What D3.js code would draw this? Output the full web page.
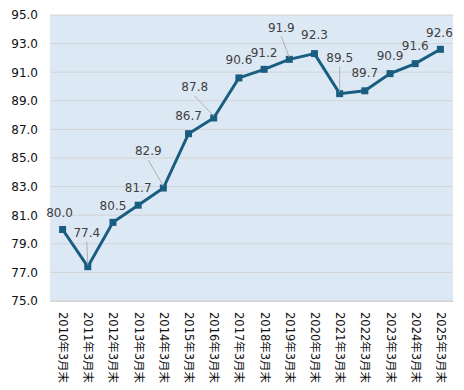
<!DOCTYPE html>
<html>
<head>
<meta charset="utf-8">
<script src="https://cdn.jsdelivr.net/npm/d3@7"></script>
<style>
  body { margin: 0; background: #fff; }
</style>
</head>
<body>
<div id="chart"></div>
<script>
// Data
const categories = ["2010年3月末", "2011年3月末", "2012年3月末", "2013年3月末", "2014年3月末",
    "2015年3月末", "2016年3月末", "2017年3月末", "2018年3月末", "2019年3月末", "2020年3月末",
    "2021年3月末", "2022年3月末", "2023年3月末", "2024年3月末", "2025年3月末"];
const values = [80.0, 77.4, 80.5, 81.7, 82.9, 86.7, 87.8, 90.6, 91.2, 91.9, 92.3, 89.5, 89.7, 90.9, 91.6, 92.6];
const yTicks = [75, 77, 79, 81, 83, 85, 87, 89, 91, 93, 95];

// Label placement relative to each point [dx, dy], and whether a leader line is drawn
const labelOffsets = [[-3, -17], [-1, -34], [0, -17], [0, -17], [-15, -37], [0, -18], [-19, -31], [0, -18],
    [0, -17], [-8, -32], [0, -19], [0, -36], [0, -18], [0, -18], [0, -18], [-1, -17]];
const leaders = [false, true, false, false, true, false, true, false, false, true, false, true, false, false, false, false];

const width = 464, height = 390;
const plot = { left: 50, right: 453, top: 15, bottom: 301 };

const svg = d3.select("#chart")
    .append("svg")
    .attr("width", width)
    .attr("height", height)
    .style("font-family", "'DejaVu Sans', Verdana, sans-serif");

const x = d3.scalePoint()
    .domain(categories)
    .range([plot.left, plot.right])
    .padding(0.5);

const y = d3.scaleLinear()
    .domain([75, 95])
    .range([plot.bottom, plot.top]);

// Plot area background
svg.append("rect")
    .attr("x", plot.left)
    .attr("y", plot.top)
    .attr("width", plot.right - plot.left)
    .attr("height", plot.bottom - plot.top)
    .attr("fill", "#dde8f5");

// Gridlines
svg.append("g")
    .selectAll("line")
    .data(yTicks)
    .enter()
    .append("line")
    .attr("x1", plot.left)
    .attr("x2", plot.right)
    .attr("y1", d => y(d))
    .attr("y2", d => y(d))
    .attr("stroke", "#d3d3d3")
    .attr("stroke-width", 1);

// Y axis
const yAxis = svg.append("g")
    .attr("transform", `translate(${plot.left},0)`)
    .call(d3.axisLeft(y).tickValues(yTicks).tickFormat(d3.format(".1f")).tickSize(0).tickPadding(12));
yAxis.select(".domain").remove();
yAxis.selectAll("text")
    .attr("font-size", 12)
    .attr("font-family", "'DejaVu Sans', Verdana, sans-serif")
    .attr("fill", "#111");

// X axis with vertical labels
const xAxis = svg.append("g")
    .attr("transform", `translate(0,${plot.bottom})`)
    .call(d3.axisBottom(x).tickSize(0).tickPadding(0));
xAxis.select(".domain").attr("stroke", "#d3d3d3");
xAxis.selectAll("text")
    .attr("font-size", 11.5)
    .attr("font-family", "'DejaVu Sans', 'Noto Sans CJK JP', sans-serif")
    .attr("fill", "#111")
    .attr("transform", "translate(0,11) rotate(90)")
    .attr("x", 0)
    .attr("y", 0)
    .attr("dy", "0.35em")
    .style("text-anchor", "start");

// Line
const line = d3.line()
    .x((d, i) => x(categories[i]))
    .y(d => y(d));

svg.append("path")
    .datum(values)
    .attr("fill", "none")
    .attr("stroke", "#195e80")
    .attr("stroke-width", 3)
    .attr("d", line);

// Markers
svg.append("g")
    .selectAll("rect")
    .data(values)
    .enter()
    .append("rect")
    .attr("x", (d, i) => x(categories[i]) - 3.5)
    .attr("y", d => y(d) - 3.5)
    .attr("width", 7)
    .attr("height", 7)
    .attr("fill", "#195e80");

// Leader lines
values.forEach((v, i) => {
    if (!leaders[i]) return;
    const px = x(categories[i]), py = y(v);
    const [dx, dy] = labelOffsets[i];
    svg.append("line")
        .attr("x1", px + dx)
        .attr("y1", py + dy + 9)
        .attr("x2", px)
        .attr("y2", py - 2)
        .attr("stroke", "#b0b0b0")
        .attr("stroke-width", 1);
});

// Value labels
svg.append("g")
    .selectAll("text")
    .data(values)
    .enter()
    .append("text")
    .attr("x", (d, i) => x(categories[i]) + labelOffsets[i][0])
    .attr("y", (d, i) => y(d) + labelOffsets[i][1])
    .attr("dy", "0.35em")
    .attr("text-anchor", "middle")
    .attr("font-size", 12)
    .attr("fill", "#404040")
    .text(d => d.toFixed(1));
</script>
</body>
</html>
